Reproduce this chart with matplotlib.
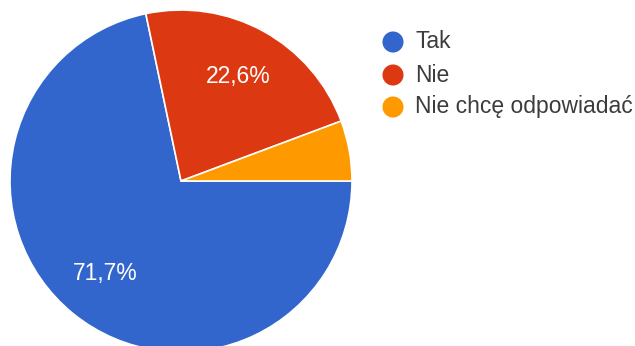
import matplotlib
matplotlib.use("Agg")
import matplotlib.pyplot as plt

plt.rcParams["font.family"] = ["Liberation Sans", "DejaVu Sans"]

labels = ["Tak", "Nie", "Nie chcę odpowiadać"]
shares = [71.7, 22.6, 5.7]
colors = ["#3366CC", "#DC3912", "#FF9900"]

W, H = 635, 346
fig = plt.figure(figsize=(W / 100, H / 100), dpi=100)

# pie centre (181, 181) px from top-left, radius 171 px
cx, cy, r = 181, 181, 171
ax = fig.add_axes([(cx - r) / W, (H - cy - r) / H, 2 * r / W, 2 * r / H])


def pct_label(p):
    # small slices stay unlabeled, polish decimal comma
    if p < 10:
        return ""
    return f"{p:.1f}%".replace(".", ",")


wedges, texts, autotexts = ax.pie(
    shares,
    colors=colors,
    startangle=0,
    counterclock=False,
    autopct=pct_label,
    pctdistance=0.70,
    wedgeprops=dict(edgecolor="white", linewidth=1.2),
    textprops=dict(color="white", fontsize=16.5),
)
ax.set_xlim(-1, 1)
ax.set_ylim(-1, 1)
ax.set_aspect("equal")

# legend drawn in a pixel-space overlay
lax = fig.add_axes([0, 0, 1, 1])
lax.set_xlim(0, W)
lax.set_ylim(H, 0)
lax.axis("off")
circle_y = [42, 75, 107]
for i, (lab, col) in enumerate(zip(labels, colors)):
    lax.scatter([393], [circle_y[i]], s=230, color=col, edgecolors="none")
    lax.text(415, circle_y[i] + 6.5, lab, fontsize=16.5, color="#3c3c3c",
             va="baseline", ha="left")

fig.savefig("out.png", dpi=100)
